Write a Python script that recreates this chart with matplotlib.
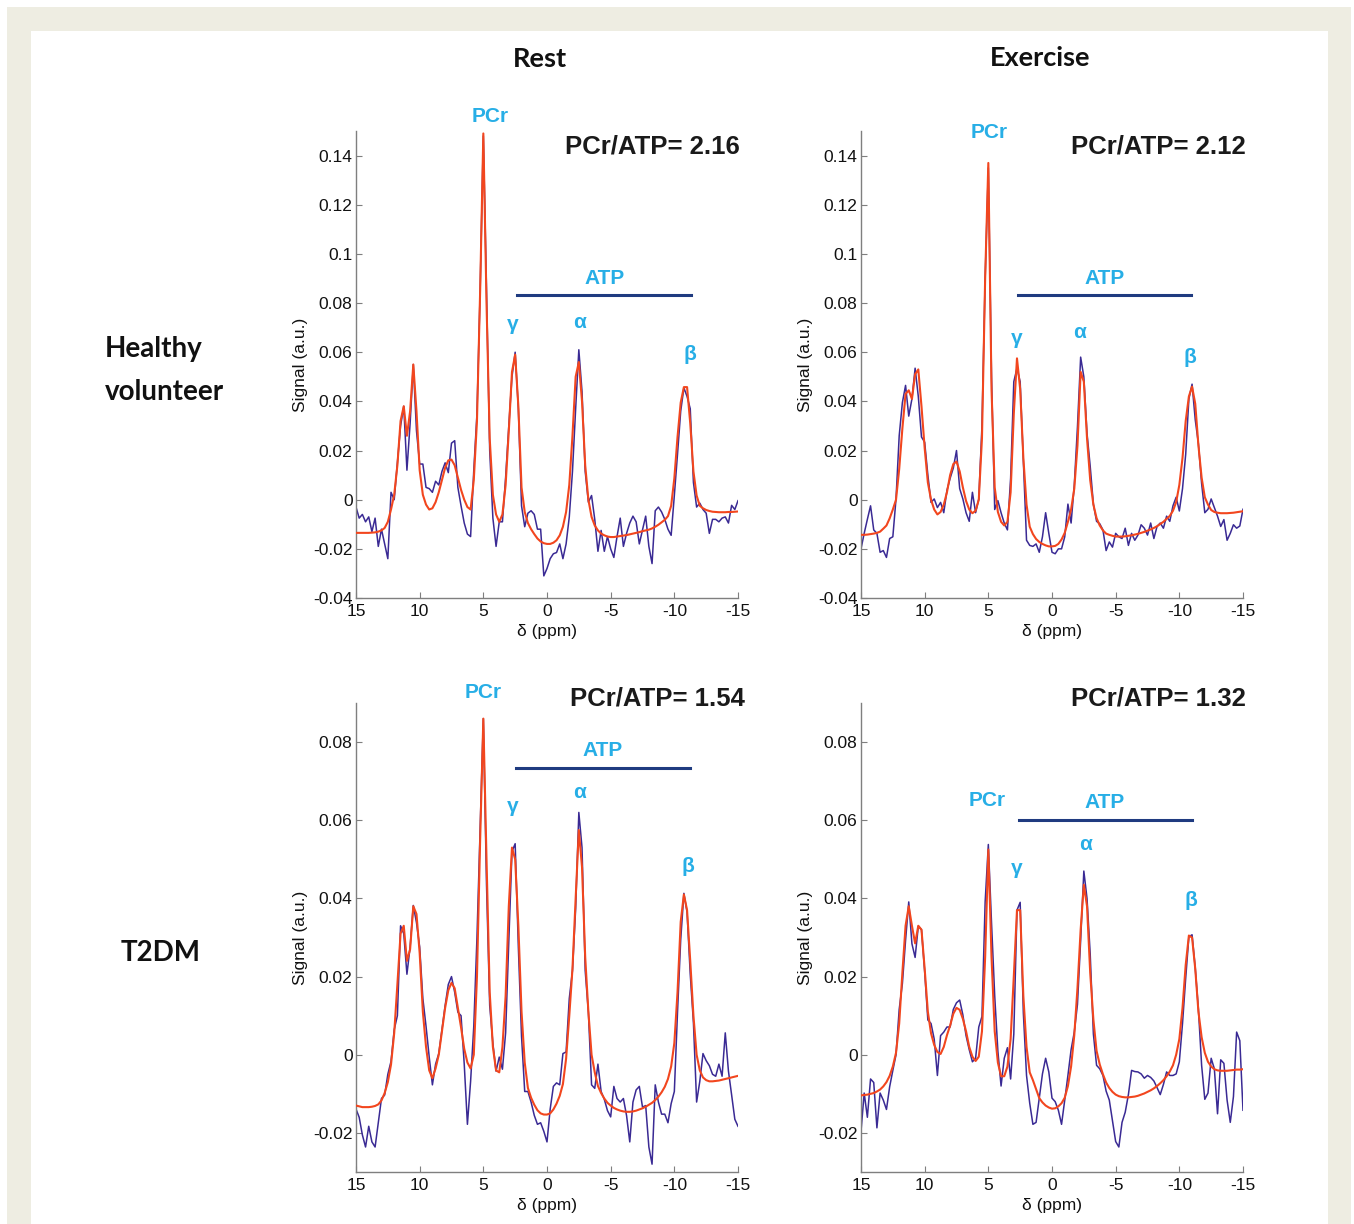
import numpy as np
import matplotlib
matplotlib.use("Agg")
import matplotlib.pyplot as plt
from matplotlib.lines import Line2D
from matplotlib.patches import Rectangle
from matplotlib.ticker import FuncFormatter

plt.rcParams['font.family'] = ['Liberation Sans', 'DejaVu Sans']
plt.rcParams['axes.unicode_minus'] = False

# ---------------- data (chemical shift axis, 0.25 ppm sampling) ----------------
ppm = np.linspace(15, -15, 121)

# Healthy volunteer, rest
hv_rest_data = [
    -0.003, -0.0075, -0.006, -0.009, -0.007, -0.013, -0.0075, -0.019, -0.012, -0.018,
    -0.024, 0.003, 0.0, 0.015, 0.030, 0.038, 0.012, 0.031, 0.055, 0.028,
    0.0145, 0.0145, 0.005, 0.0045, 0.003, 0.0075, 0.006, 0.0115, 0.015, 0.011,
    0.023, 0.024, 0.005, -0.0025, -0.0095, -0.014, -0.015, 0.012, 0.035, 0.085,
    0.148, 0.085, 0.020, -0.0075, -0.019, -0.009, -0.009, 0.009, 0.030, 0.050,
    0.060, 0.037, -0.0025, -0.011, -0.0055, -0.0045, -0.006, -0.012, -0.012, -0.031,
    -0.028, -0.024, -0.022, -0.0215, -0.018, -0.024, -0.018, -0.007, 0.0115, 0.037,
    0.061, 0.044, 0.0115, -0.001, 0.0017, -0.008, -0.021, -0.0125, -0.021, -0.015,
    -0.020, -0.0235, -0.015, -0.0075, -0.019, -0.0137, -0.0095, -0.0067, -0.009, -0.018,
    -0.0123, -0.0067, -0.019, -0.026, -0.0045, -0.003, -0.005, -0.008, -0.012, -0.0145,
    0.0017, 0.0185, 0.036, 0.0455, 0.042, 0.037, 0.007, -0.003, -0.0014, -0.004,
    -0.0055, -0.0137, -0.008, -0.008, -0.009, -0.0075, -0.007, -0.0095, -0.0023, -0.004,
    -0.0004]
hv_rest_fit = [
    -0.0135, -0.0135, -0.0135, -0.0135, -0.0135, -0.0134, -0.0133, -0.013, -0.0125, -0.0115,
    -0.009, -0.004, 0.002, 0.014, 0.032, 0.038, 0.026, 0.036, 0.055, 0.036,
    0.012, 0.002, -0.002, -0.004, -0.0035, -0.001, 0.003, 0.008, 0.013, 0.016,
    0.0163, 0.014, 0.009, 0.004, 0.0, -0.003, -0.004, 0.008, 0.032, 0.085,
    0.149, 0.080, 0.025, 0.002, -0.006, -0.009, -0.006, 0.006, 0.028, 0.052,
    0.059, 0.038, 0.005, -0.005, -0.0095, -0.012, -0.014, -0.0158, -0.017, -0.0177,
    -0.018, -0.018, -0.0175, -0.0165, -0.0145, -0.011, -0.005, 0.006, 0.026, 0.050,
    0.056, 0.040, 0.014, 0.0, -0.007, -0.0105, -0.0125, -0.0138, -0.0145, -0.015,
    -0.0152, -0.0152, -0.015, -0.0148, -0.0146, -0.0144, -0.0141, -0.0138, -0.0135, -0.0132,
    -0.0128, -0.0125, -0.0122, -0.0117, -0.011, -0.0102, -0.0092, -0.0082, -0.0067, -0.0025,
    0.0087, 0.0255, 0.0395, 0.0458, 0.0458, 0.031, 0.0115, 0.0017, -0.0025, -0.0035,
    -0.0042, -0.0046, -0.0049, -0.005, -0.0051, -0.0051, -0.0051, -0.005, -0.005, -0.0049,
    -0.0048]

# Healthy volunteer, exercise
hv_ex_data = [
    -0.020, -0.0137, -0.008, -0.0025, -0.0123, -0.0137, -0.0214, -0.0207, -0.0235, -0.0158,
    -0.0151, 0.0003, 0.026, 0.0395, 0.0465, 0.034, 0.041, 0.0535, 0.042, 0.0255,
    0.0234, 0.010, -0.0011, 0.0003, -0.0032, -0.0011, -0.0053, 0.0038, 0.0087, 0.0129,
    0.020, 0.0045, 0.0003, -0.0053, -0.0088, 0.003, -0.0053, 0.0003, 0.030, 0.090,
    0.135, 0.050, -0.004, -0.0004, -0.0053, -0.0095, -0.0123, 0.0087, 0.048, 0.0535,
    0.048, 0.0157, -0.0165, -0.0186, -0.019, -0.018, -0.0214, -0.0151, -0.0053, -0.0137,
    -0.0214, -0.022, -0.020, -0.020, -0.0151, -0.0018, -0.0095, 0.0059, 0.0297, 0.058,
    0.050, 0.027, 0.0136, -0.0018, -0.0088, -0.0098, -0.0123, -0.0207, -0.0172, -0.0193,
    -0.0137, -0.0151, -0.0158, -0.0116, -0.0186, -0.0137, -0.0165, -0.0144, -0.0102, -0.0116,
    -0.0144, -0.0095, -0.0158, -0.0109, -0.0095, -0.0116, -0.0067, -0.0088, -0.0025, 0.001,
    -0.0046, 0.0045, 0.0185, 0.041, 0.047, 0.0325, 0.0227, 0.0066, -0.0053, -0.0039,
    0.0003, -0.0032, -0.0067, -0.0109, -0.0081, -0.0165, -0.0137, -0.0102, -0.0116, -0.0107,
    -0.0039]
hv_ex_fit = [
    -0.0143, -0.0143, -0.0142, -0.014, -0.0138, -0.0135, -0.013, -0.0118, -0.0105, -0.0076,
    -0.004, 0.0, 0.0125, 0.029, 0.043, 0.0445, 0.041, 0.051, 0.053, 0.038,
    0.021, 0.007, 0.0, -0.004, -0.006, -0.005, -0.002, 0.003, 0.010, 0.0145,
    0.0155, 0.0115, 0.005, -0.0005, -0.004, -0.0055, -0.0045, 0.0, 0.025, 0.090,
    0.137, 0.045, 0.005, -0.005, -0.009, -0.0105, -0.009, 0.003, 0.035, 0.0575,
    0.045, 0.017, -0.002, -0.011, -0.014, -0.016, -0.0172, -0.018, -0.0186, -0.019,
    -0.019, -0.0188, -0.018, -0.0162, -0.0135, -0.009, -0.004, 0.0045, 0.022, 0.052,
    0.048, 0.025, 0.008, -0.002, -0.0075, -0.0105, -0.0125, -0.0138, -0.0143, -0.0147,
    -0.015, -0.015, -0.015, -0.0149, -0.0147, -0.0145, -0.0142, -0.0139, -0.0135, -0.0131,
    -0.0126, -0.0121, -0.0115, -0.0108, -0.0099, -0.009, -0.0078, -0.0066, -0.0045, -0.001,
    0.006, 0.017, 0.032, 0.042, 0.046, 0.039, 0.022, 0.009, 0.001, -0.002,
    -0.0042, -0.005, -0.0053, -0.0055, -0.0055, -0.0055, -0.0054, -0.0053, -0.0051, -0.0049,
    -0.0047]

# T2DM, rest
t2_rest_data = [
    -0.0139, -0.016, -0.0205, -0.0236, -0.0183, -0.0223, -0.0236, -0.0174, -0.0112, -0.0103,
    -0.005, -0.0017, 0.0064, 0.010, 0.033, 0.031, 0.0206, 0.0276, 0.0382, 0.0338,
    0.0276, 0.0144, 0.0073, -0.0006, -0.0077, -0.0024, 0.0003, 0.0064, 0.0126, 0.018,
    0.020, 0.016, 0.0109, 0.010, -0.0024, -0.0178, -0.0068, 0.0073, 0.030, 0.058,
    0.086, 0.0435, 0.0126, 0.0029, -0.0042, -0.0006, -0.0037, 0.0056, 0.029, 0.052,
    0.054, 0.0276, 0.0047, -0.0094, -0.0094, -0.0121, -0.0155, -0.0178, -0.0174, -0.0196,
    -0.0223, -0.0139, -0.0081, -0.0072, -0.0077, 0.0003, 0.0007, 0.0144, 0.0215, 0.0374,
    0.062, 0.053, 0.0215, 0.0109, -0.0077, -0.0086, -0.0024, -0.0094, -0.0114, -0.0143,
    -0.0159, -0.0081, -0.0112, -0.0121, -0.0112, -0.0156, -0.0223, -0.0121, -0.009, -0.0081,
    -0.0134, -0.013, -0.0236, -0.028, -0.0077, -0.0121, -0.0152, -0.0152, -0.0174, -0.0125,
    -0.0094, 0.0109, 0.0294, 0.0413, 0.0365, 0.0206, 0.0082, -0.0121, -0.0068, 0.0003,
    -0.0015, -0.0028, -0.005, -0.0055, -0.0024, -0.0055, 0.0056, -0.0042, -0.0103, -0.0165,
    -0.0183]
t2_rest_fit = [
    -0.013, -0.0132, -0.0134, -0.0134, -0.0134, -0.0133, -0.0131, -0.0127, -0.0117, -0.0098,
    -0.007, -0.0025, 0.0055, 0.018, 0.031, 0.033, 0.024, 0.027, 0.038, 0.036,
    0.026, 0.011, 0.002, -0.004, -0.006, -0.0035, 0.0, 0.006, 0.012, 0.0165,
    0.0184, 0.017, 0.012, 0.007, 0.0015, -0.002, -0.0035, 0.0, 0.020, 0.055,
    0.086, 0.050, 0.016, 0.002, -0.004, -0.0045, 0.002, 0.015, 0.038, 0.053,
    0.050, 0.033, 0.011, -0.002, -0.0085, -0.011, -0.0128, -0.0142, -0.015, -0.0153,
    -0.0153, -0.015, -0.014, -0.0125, -0.0105, -0.0075, -0.001, 0.010, 0.022, 0.040,
    0.0575, 0.048, 0.025, 0.011, 0.0, -0.0045, -0.008, -0.0098, -0.0112, -0.0123,
    -0.013, -0.0136, -0.014, -0.0143, -0.0145, -0.0146, -0.0146, -0.0145, -0.0143, -0.014,
    -0.0137, -0.0133, -0.0128, -0.0123, -0.0116, -0.0107, -0.0096, -0.0082, -0.0062, -0.003,
    0.003, 0.016, 0.034, 0.041, 0.037, 0.024, 0.010, 0.0, -0.004, -0.0058,
    -0.0065, -0.0068, -0.0068, -0.0067, -0.0066, -0.0064, -0.0062, -0.006, -0.0058, -0.0056,
    -0.0054]

# T2DM, exercise
t2_ex_data = [
    -0.0196, -0.0098, -0.016, -0.0062, -0.0071, -0.0187, -0.0098, -0.0116, -0.014, -0.0082,
    -0.004, 0.0, 0.0116, 0.0182, 0.0293, 0.0391, 0.0284, 0.0249, 0.0329, 0.032,
    0.0213, 0.0089, 0.008, 0.004, -0.0053, 0.0049, 0.0058, 0.0071, 0.0071, 0.0116,
    0.0133, 0.014, 0.0102, 0.0049, 0.0013, -0.0018, -0.0009, 0.0071, 0.0098, 0.0391,
    0.0538, 0.0338, 0.0151, 0.0009, -0.008, -0.0009, 0.0018, -0.0062, 0.0053, 0.037,
    0.039, 0.0107, -0.0053, -0.0124, -0.0178, -0.0173, -0.0111, -0.0049, -0.0009, -0.0044,
    -0.0111, -0.012, -0.0142, -0.0178, -0.0116, -0.0053, 0.0013, 0.0058, 0.0129, 0.0293,
    0.047, 0.040, 0.0258, 0.0053, -0.0027, -0.0036, -0.0053, -0.0093, -0.0116, -0.0169,
    -0.0222, -0.0236, -0.0173, -0.0147, -0.0102, -0.004, -0.0043, -0.0044, -0.0049, -0.006,
    -0.0053, -0.0058, -0.0067, -0.0084, -0.0102, -0.0076, -0.0044, -0.0053, -0.0053, -0.0049,
    -0.0018, 0.008, 0.0196, 0.0302, 0.0307, 0.0222, 0.0116, -0.0027, -0.0114, -0.0098,
    -0.0009, -0.0036, -0.0151, -0.0013, -0.0022, -0.0116, -0.0173, -0.0107, 0.0058, 0.0036,
    -0.0142]
t2_ex_fit = [
    -0.0104, -0.0103, -0.0102, -0.01, -0.0098, -0.0094, -0.0089, -0.0081, -0.007, -0.0054,
    -0.003, 0.0005, 0.008, 0.021, 0.033, 0.038, 0.033, 0.0285, 0.033, 0.032,
    0.022, 0.011, 0.0055, 0.0025, 0.0007, 0.0002, 0.002, 0.005, 0.0075, 0.0105,
    0.012, 0.0115, 0.0092, 0.006, 0.002, -0.0005, -0.0016, -0.0005, 0.006, 0.025,
    0.0525, 0.025, 0.006, -0.002, -0.0055, -0.0055, -0.003, 0.004, 0.020, 0.037,
    0.037, 0.015, 0.002, -0.0045, -0.0065, -0.0088, -0.0111, -0.0122, -0.013, -0.0135,
    -0.0138, -0.0137, -0.0132, -0.0124, -0.011, -0.008, -0.003, 0.005, 0.017, 0.032,
    0.0435, 0.038, 0.021, 0.009, 0.001, -0.0025, -0.005, -0.0071, -0.0085, -0.0095,
    -0.0102, -0.0106, -0.0108, -0.0109, -0.0109, -0.0108, -0.0107, -0.0105, -0.0102, -0.0099,
    -0.0095, -0.0091, -0.0086, -0.008, -0.0073, -0.0065, -0.0055, -0.0043, -0.0027, 0.0,
    0.004, 0.012, 0.023, 0.0305, 0.030, 0.022, 0.011, 0.0045, 0.0005, -0.0018,
    -0.003, -0.0037, -0.004, -0.0041, -0.0041, -0.0041, -0.004, -0.0039, -0.0038, -0.0038,
    -0.0037]

ratios = ["PCr/ATP= 2.16", "PCr/ATP= 2.12", "PCr/ATP= 1.54", "PCr/ATP= 1.32"]
col_titles = ["Rest", "Exercise"]
row_titles = ["Healthy", "volunteer", "T2DM"]
x_ticks = [15, 10, 5, 0, -5, -10, -15]
y_ticks_top = [-0.04, -0.02, 0, 0.02, 0.04, 0.06, 0.08, 0.1, 0.12, 0.14]
y_ticks_bottom = [-0.02, 0, 0.02, 0.04, 0.06, 0.08]

# ---------------- styling ----------------
W, H = 1354, 1224
BLUE = '#3a2a94'
RED = '#f2461e'
CYAN = '#27aee6'
NAVY = '#1f3b80'
SPINE = '#7f7f7f'
HEAD = ['Lato', 'DejaVu Sans']

fig = plt.figure(figsize=(W / 100, H / 100), dpi=100)
fig.patch.set_facecolor('white')
# frame
fig.add_artist(Rectangle((7 / W, 0), (1351 - 7) / W, 1 - 7 / H, transform=fig.transFigure,
                         facecolor='#eeede2', edgecolor='none', zorder=-10))
fig.add_artist(Rectangle((31 / W, 0), (1328 - 31) / W, 1 - 31 / H, transform=fig.transFigure,
                         facecolor='white', edgecolor='none', zorder=-9))


def fx(px):
    return px / W


def fy(py):
    return 1 - py / H


# axes boxes in pixels: left, top, right, bottom
boxes = [(356, 131, 738, 598), (861, 131, 1243, 598),
         (356, 703, 738, 1172), (861, 703, 1243, 1172)]
datasets = [(hv_rest_data, hv_rest_fit), (hv_ex_data, hv_ex_fit),
            (t2_rest_data, t2_rest_fit), (t2_ex_data, t2_ex_fit)]
ylims = [(-0.04, 0.15), (-0.04, 0.15), (-0.03, 0.09), (-0.03, 0.09)]
yticks = [y_ticks_top, y_ticks_top, y_ticks_bottom, y_ticks_bottom]

fmt = FuncFormatter(lambda v, p: '%g' % round(v, 4))

for k in range(4):
    l, t, r, b = boxes[k]
    ax = fig.add_axes([fx(l), fy(b), (r - l) / W, (b - t) / H])
    ax.set_facecolor('none')
    d, f = datasets[k]
    ax.plot(ppm, d, color=BLUE, lw=1.1, zorder=2, solid_joinstyle='round')
    ax.plot(ppm, f, color=RED, lw=1.5, zorder=3, solid_joinstyle='round')
    ax.set_xlim(15, -15)
    ax.set_ylim(*ylims[k])
    ax.set_xticks(x_ticks)
    ax.set_yticks(yticks[k])
    ax.yaxis.set_major_formatter(fmt)
    ax.xaxis.set_major_formatter(FuncFormatter(lambda v, p: '%d' % v))
    for s in ['top', 'right']:
        ax.spines[s].set_visible(False)
    for s in ['left', 'bottom']:
        ax.spines[s].set_color(SPINE)
        ax.spines[s].set_linewidth(1.0)
    ax.tick_params(direction='in', length=4, width=0.8, color=SPINE,
                   labelsize=12.5, labelcolor='#111111')
    ax.tick_params(axis='y', pad=2.5)
    ax.tick_params(axis='x', pad=4)
    ax.set_xlabel('δ (ppm)', fontsize=12.5, labelpad=4, color='#111111')
    ax.set_ylabel('Signal (a.u.)', fontsize=12.5, labelpad=3.5, color='#111111')

# column / row titles
fig.text(fx(540), fy(59), col_titles[0], ha='center', va='center', fontsize=19.5,
         fontweight='bold', family=HEAD, color='#111111')
fig.text(fx(1040), fy(58), col_titles[1], ha='center', va='center', fontsize=19.5,
         fontweight='bold', family=HEAD, color='#111111')
fig.text(fx(105), fy(349), row_titles[0], ha='left', va='center', fontsize=20,
         fontweight='bold', family=HEAD, color='#111111')
fig.text(fx(105), fy(392), row_titles[1], ha='left', va='center', fontsize=20,
         fontweight='bold', family=HEAD, color='#111111')
fig.text(fx(161), fy(953), row_titles[2], ha='center', va='center', fontsize=20,
         fontweight='bold', family=HEAD, color='#111111')

# annotations per panel: ratio text, PCr, ATP, line, gamma, alpha, beta (pixel positions)
ann = [
    dict(ratio=(740, 146), pcr=(490, 117), atp=(605, 278), line=(517, 691, 295),
         g=(513, 325), a=(580, 323), b=(690, 354)),
    dict(ratio=(1246, 146), pcr=(989, 133), atp=(1105, 278), line=(1018, 1191, 295),
         g=(1017, 338), a=(1080, 333), b=(1190, 357)),
    dict(ratio=(745, 698), pcr=(483, 693), atp=(603, 750), line=(516, 690, 768),
         g=(513, 806), a=(580, 793), b=(688, 866)),
    dict(ratio=(1246, 698), pcr=(987, 800), atp=(1105, 803), line=(1019, 1192, 820),
         g=(1017, 868), a=(1086, 845), b=(1191, 901)),
]
for k, a in enumerate(ann):
    fig.text(fx(a['ratio'][0]), fy(a['ratio'][1]), ratios[k], ha='right', va='center',
             fontsize=18.5, fontweight='bold', color='#1a1a1a')
    fig.text(fx(a['pcr'][0]), fy(a['pcr'][1]), 'PCr', ha='center', va='center',
             fontsize=15, fontweight='bold', color=CYAN)
    fig.text(fx(a['atp'][0]), fy(a['atp'][1]), 'ATP', ha='center', va='center',
             fontsize=15, fontweight='bold', color=CYAN)
    x1, x2, yl = a['line']
    fig.add_artist(Line2D([fx(x1), fx(x2)], [fy(yl), fy(yl)], color=NAVY, lw=2.2,
                          transform=fig.transFigure))
    for key, sym in (('g', 'γ'), ('a', 'α'), ('b', 'β')):
        fig.text(fx(a[key][0]), fy(a[key][1]), sym, ha='center', va='center',
                 fontsize=15, fontweight='bold', color=CYAN)

fig.savefig('out.png', dpi=100, facecolor='white')
